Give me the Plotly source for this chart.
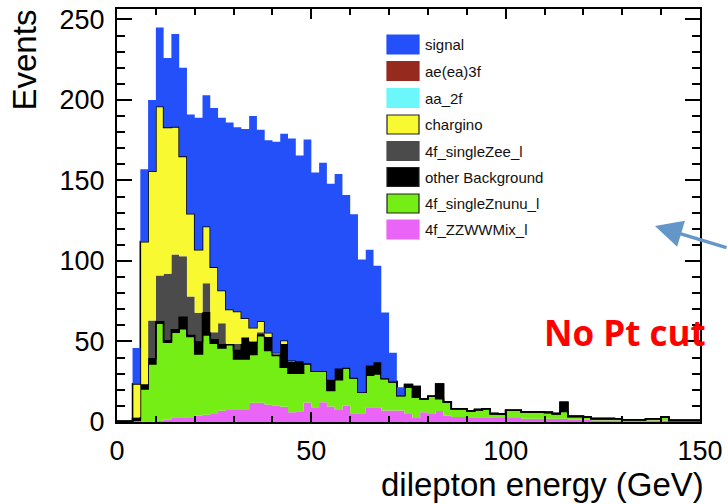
import numpy as np
import plotly.graph_objects as go

# 2 GeV bins from 0 to 150 GeV
bin_edges = np.arange(0, 152, 2)

# Events per bin for each sample (stack order bottom -> top)
zzwwmix_l = [0.5, 0.5, 0.5, 0.5, 0.5, 0.8, 1.5, 2.9, 2.9, 2.5,
             4.0, 4.5, 5.0, 7.0, 7.4, 7.4, 7.4, 12.0, 12.0, 10.7,
             10.1, 9.5, 6.0, 6.6, 12.1, 9.2, 12.3, 9.6, 7.5, 10.2,
             5.5, 5.5, 9.2, 9.2, 7.1, 7.1, 7.1, 5.0, 2.5, 6.1,
             5.0, 6.8, 4.0, 3.1, 3.1, 3.0, 3.0, 3.0, 2.5, 2.5,
             2.5, 2.5, 2.0, 2.0, 2.0, 2.0, 2.0, 2.0, 1.5, 1.5,
             1.5, 1.0, 1.0, 1.0, 1.0, 0.7, 0.7, 0.7, 1.0, 1.0,
             1.0, 0.5, 0.5, 0.5, 0.5]

singleznunu_l = [0.0, 0.0, 0.5, 20.1, 35.6, 60.6, 48.1, 52.9, 55.1, 50.6,
                 38.3, 49.6, 44.0, 39.0, 40.6, 31.8, 31.8, 30.0, 41.6, 33.7,
                 31.2, 24.5, 24.3, 23.7, 24.0, 22.4, 19.3, 10.0, 18.7, 23.5,
                 22.0, 13.0, 19.8, 20.7, 20.0, 18.0, 9.4, 16.6, 12.9, 8.2,
                 11.0, 7.7, 8.5, 5.1, 5.1, 3.8, 4.7, 5.2, 2.7, 2.5,
                 4.8, 4.8, 4.2, 4.2, 4.2, 4.0, 3.2, 4.5, 2.0, 2.0,
                 1.6, 1.1, 1.1, 1.1, 1.0, 0.7, 0.7, 0.7, 1.0, 1.0,
                 2.0, 0.5, 0.5, 0.5, 0.5]

other_background = [0.0, 0.0, 1.0, 2.5, 3.1, 0.8, 0.9, 1.5, 7.1, 0.6,
                    7.3, 13.7, 2.0, 2.0, 0.3, 5.2, 13.1, 7.6, 0.4, 7.9,
                    0.2, 14.2, 6.9, 6.7, 0.2, 0.0, 0.0, 6.6, 7.1, 0.0,
                    0.0, 0.0, 6.1, 7.2, 0.0, 0.0, 0.0, 1.7, 6.6, 0.0,
                    0.0, 9.0, 0.0, 0.0, 0.0, 0.0, 0.0, 0.0, 0.0, 0.0,
                    0.0, 0.0, 0.0, 0.0, 0.0, 0.0, 0.0, 5.8, 0.0, 0.0,
                    0.0, 0.0, 0.0, 0.0, 0.0, 0.0, 0.0, 0.0, 0.0, 0.0,
                    0.0, 0.0, 0.0, 0.0, 0.0]

singlezee_l = [0.0, 0.0, 1.0, 0.4, 23.8, 28.8, 41.5, 46.7, 37.9, 24.3,
               18.2, 18.4, 4.8, 13.4, 0.2, 4.1, 0.2, 0.4, 1.8, 0.7,
               0.5, 0.3, 0.3, 0.3, 0.1, 0.0, 0.0, 0.0, 0.0, 0.0,
               0.0, 0.0, 0.0, 0.0, 0.0, 0.0, 0.0, 0.0, 0.0, 0.0,
               0.0, 0.0, 0.0, 0.0, 0.0, 0.0, 0.0, 0.0, 0.0, 0.0,
               0.0, 0.0, 0.0, 0.0, 0.0, 0.0, 0.0, 0.0, 0.0, 0.0,
               0.0, 0.0, 0.0, 0.0, 0.0, 0.0, 0.0, 0.0, 0.0, 0.0,
               0.0, 0.0, 0.0, 0.0, 0.0]

chargino = [0.0, 0.0, 20.7, 88.5, 92.8, 105.0, 91.0, 79.3, 62.0, 51.3,
            39.2, 35.2, 40.4, 20.3, 21.4, 20.2, 12.0, 8.5, 6.8, 2.4,
            1.0, 2.1, 0.7, 0.5, 0.1, 0.0, 0.0, 0.0, 0.0, 0.0,
            0.0, 0.0, 0.0, 0.0, 0.0, 0.0, 0.0, 0.0, 0.0, 0.0,
            0.0, 0.0, 0.0, 0.0, 0.0, 0.0, 0.0, 0.0, 0.0, 0.0,
            0.0, 0.0, 0.0, 0.0, 0.0, 0.0, 0.0, 0.0, 0.0, 0.0,
            0.0, 0.0, 0.0, 0.0, 0.0, 0.0, 0.0, 0.0, 0.0, 0.0,
            0.0, 0.0, 0.0, 0.0, 0.0]

aa_2f = [0.0] * 75
ae_ea_3f = [0.0] * 75

signal = [0.0, 0.0, 22.3, 45.0, 44.2, 49.0, 43.0, 57.7, 55.0, 61.7,
          82.0, 81.6, 98.8, 107.3, 116.1, 114.3, 117.5, 131.5, 118.9, 119.6,
          131.0, 128.4, 137.8, 127.7, 139.0, 123.4, 129.4, 121.8, 120.7, 107.3,
          101.5, 82.5, 71.9, 59.9, 40.9, 17.9, 5.1, 0.0, 0.0, 0.0,
          0.0, 0.0, 0.0, 0.0, 0.0, 0.0, 0.0, 0.0, 0.0, 0.0,
          0.0, 0.0, 0.0, 0.0, 0.0, 0.0, 0.0, 0.0, 0.0, 0.0,
          0.0, 0.0, 0.0, 0.0, 0.0, 0.0, 0.0, 0.0, 0.0, 0.0,
          0.0, 0.0, 0.0, 0.0, 0.0]

# (name, values, fill colour, outlined) from the bottom of the stack upwards
stack = [
    ("4f_ZZWWMix_l", zzwwmix_l, "#EA64F8", False),
    ("4f_singleZnunu_l", singleznunu_l, "#74EE15", True),
    ("other Background", other_background, "#000000", True),
    ("4f_singleZee_l", singlezee_l, "#4B4B4B", False),
    ("chargino", chargino, "#F9F932", True),
    ("aa_2f", aa_2f, "#6CF8FA", False),
    ("ae(ea)3f", ae_ea_3f, "#962A1E", False),
    ("signal", signal, "#2450FA", False),
]

# legend rows, top to bottom
legend_labels = ["signal", "ae(ea)3f", "aa_2f", "chargino",
                 "4f_singleZee_l", "other Background",
                 "4f_singleZnunu_l", "4f_ZZWWMix_l"]

W, H = 728, 504
ML, MR, MT, MB = 117, 28, 9, 82
FONT = "Liberation Sans, Arial, Helvetica, sans-serif"


def px(x):
    return (x - ML) / (W - ML - MR)


def py(y):
    return (H - MB - y) / (H - MT - MB)


fig = go.Figure()

running = np.zeros(len(bin_edges) - 1)
for i, (name, vals, color, outlined) in enumerate(stack):
    running = running + np.asarray(vals, dtype=float)
    yy = np.append(running, running[-1])
    fig.add_trace(go.Scatter(
        x=bin_edges, y=yy, name=name, mode="lines",
        line=dict(shape="hv", color="#000000" if outlined else color,
                  width=1.6 if outlined else 0),
        fill="tozeroy" if i == 0 else "tonexty",
        fillcolor=color, showlegend=False, hoverinfo="skip",
    ))

# hand-drawn legend box
colors = {name: (color, outlined) for name, _, color, outlined in stack}
shapes = []
annotations = []
row_y = [44.5, 71, 98, 124.5, 151, 177, 203.5, 229.5]
for label, yc in zip(legend_labels, row_y):
    color, outlined = colors[label]
    shapes.append(dict(
        type="rect", xref="paper", yref="paper",
        x0=px(387), x1=px(419), y0=py(yc + 9.5), y1=py(yc - 9.5),
        fillcolor=color,
        line=dict(color="#222222" if outlined else color, width=1.2),
        layer="above",
    ))
    annotations.append(dict(
        x=px(423), y=py(yc), xref="paper", yref="paper",
        xanchor="left", yanchor="middle", text=label, showarrow=False,
        font=dict(family=FONT, size=15, color="#111111"),
    ))

# axis titles
annotations.append(dict(
    x=1, y=0, xref="paper", yref="paper", xanchor="right", yanchor="top",
    xshift=6, yshift=-42, text="dilepton energy (GeV)", showarrow=False,
    font=dict(family=FONT, size=33, color="#000000"),
))
annotations.append(dict(
    x=0, y=1, xref="paper", yref="paper", xanchor="center", yanchor="top",
    xshift=-93, yshift=1, text="Events", textangle=-90, showarrow=False,
    font=dict(family=FONT, size=33, color="#000000"),
))

# overlay note and pointer arrow
annotations.append(dict(
    x=px(625), y=py(332.5), xref="paper", yref="paper",
    xanchor="center", yanchor="middle", text="<b>No Pt cut</b>",
    showarrow=False, font=dict(family="Open Sans, sans-serif", size=35,
                               color="#FF0000"),
))
annotations.append(dict(
    x=px(655), y=py(226), xref="paper", yref="paper", text="",
    showarrow=True, ax=90, ay=22, arrowhead=2, arrowsize=1.6,
    arrowwidth=3.4, arrowcolor="#6496C8",
))

axis_common = dict(
    showline=True, linecolor="#000000", linewidth=2, mirror="allticks",
    ticks="inside", tickcolor="#000000", tickwidth=2, showgrid=False,
    zeroline=False, automargin=False,
    tickfont=dict(family=FONT, size=27, color="#000000"),
)

fig.update_xaxes(range=[0, 150], tick0=0, dtick=50, ticklen=10,
                 ticklabelstandoff=4,
                 minor=dict(dtick=10, ticks="inside", ticklen=6,
                            tickwidth=2, tickcolor="#000000"),
                 **axis_common)
fig.update_yaxes(range=[0, 256.5], tick0=0, dtick=50, ticklen=15,
                 ticklabelstandoff=5,
                 minor=dict(dtick=10, ticks="inside", ticklen=8,
                            tickwidth=2, tickcolor="#000000"),
                 **axis_common)

fig.update_layout(
    width=W, height=H,
    margin=dict(l=ML, r=MR, t=MT, b=MB, autoexpand=False),
    paper_bgcolor="#FFFFFF", plot_bgcolor="#FFFFFF",
    showlegend=False, shapes=shapes, annotations=annotations,
)

fig.write_html("out.html")
